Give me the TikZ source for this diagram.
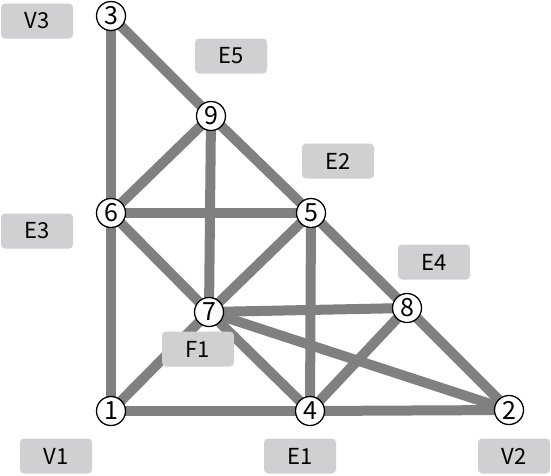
\documentclass[tikz,border=0pt]{standalone}
\usepackage{fontspec}
\setmainfont{Noto Sans CJK SC}
\usetikzlibrary{backgrounds}
\definecolor{edgegray}{HTML}{808080}
\definecolor{boxgray}{HTML}{D0CFD1}
\begin{document}
\begin{tikzpicture}[x=1pt,y=-1pt,
  vert/.style={circle,draw=black,line width=1.3pt,fill=white,inner sep=0pt,minimum size=29pt,font=\fontsize{25}{25}\selectfont},
  lbl/.style={rectangle,rounded corners=4pt,fill=boxgray,minimum width=72pt,minimum height=35pt,inner sep=0pt,font=\fontsize{22}{22}\selectfont},
  edge/.style={draw=edgegray,line width=10pt}]
\useasboundingbox (0,0) rectangle (551,475);
\node[vert] (n1) at (111,411) {1};
\node[vert] (n2) at (509,410) {2};
\node[vert] (n3) at (111,16) {3};
\node[vert] (n4) at (310,411) {4};
\node[vert] (n5) at (311,213) {5};
\node[vert] (n6) at (111,213) {6};
\node[vert] (n7) at (209,312) {7};
\node[vert] (n8) at (407,308) {8};
\node[vert] (n9) at (211,116) {9};
\node[lbl] (v3) at (37,21) {V3};
\node[lbl] (e5) at (231,56) {E5};
\node[lbl] (e3) at (37,231) {E3};
\node[lbl] (e2) at (338,161) {E2};
\node[lbl] (e4) at (434,262) {E4};
\node[lbl] (f1) at (198,349) {F1};
\node[lbl] (v1) at (56,456) {V1};
\node[lbl] (e1) at (300,456) {E1};
\node[lbl] (v2) at (514,456) {V2};
\begin{scope}[on background layer]
\draw[edge] (n3.center) -- (n6.center);
\draw[edge] (n6.center) -- (n1.center);
\draw[edge] (n3.center) -- (n9.center);
\draw[edge] (n9.center) -- (n5.center);
\draw[edge] (n5.center) -- (n8.center);
\draw[edge] (n8.center) -- (n2.center);
\draw[edge] (n1.center) -- (n4.center);
\draw[edge] (n4.center) -- (n2.center);
\draw[edge] (n9.center) -- (n6.center);
\draw[edge] (n9.center) -- (n7.center);
\draw[edge] (n6.center) -- (n5.center);
\draw[edge] (n6.center) -- (n7.center);
\draw[edge] (n7.center) -- (n5.center);
\draw[edge] (n7.center) -- (n8.center);
\draw[edge] (n7.center) -- (n2.center);
\draw[edge] (n7.center) -- (n4.center);
\draw[edge] (n5.center) -- (n4.center);
\draw[edge] (n4.center) -- (n8.center);
\draw[edge] (n1.center) -- (n7.center);
\end{scope}
\end{tikzpicture}
\end{document}
